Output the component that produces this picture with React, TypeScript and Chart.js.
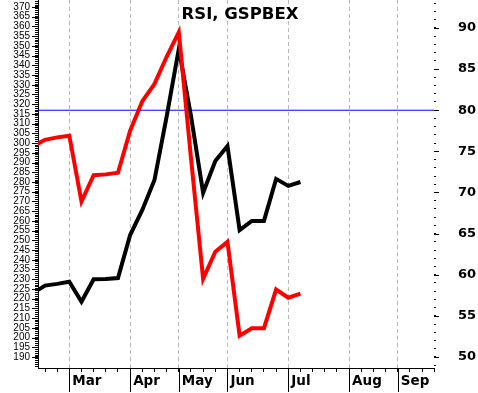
import React, { useEffect, useRef } from 'react';
import { Chart, registerables } from 'chart.js';

Chart.register(...registerables);

// ---- data ----
const title = 'RSI, GSPBEX';
// week index (0 = first tick on the time axis)
const weeks = [-1, 0, 1, 2, 3, 4, 5, 6, 7, 8, 9, 10, 11, 12, 13, 14, 15, 16, 17, 18, 19, 20, 21];
// GSPBEX price (left axis)
const gspbex = [222.8, 226.7, 227.6, 228.7, 218.4, 230.0, 230.1, 230.6, 252.7, 265.6, 281.0, 313.6, 348.4, 314.0, 274.5, 290.8, 298.5, 255.3, 260.0, 260.0, 281.6, 278.0, 280.0];
// RSI (right axis)
const rsi = [75.6, 76.4, 76.7, 76.9, 68.9, 72.1, 72.2, 72.4, 77.5, 81.1, 83.2, 86.5, 89.5, 74.2, 59.5, 62.8, 64.0, 52.6, 53.5, 53.5, 58.2, 57.2, 57.7];
const overbought = 80;
// time axis: weekly ticks, months start at these weeks
const xTickWeeks = Array.from({ length: 33 }, (_, i) => i);
const monthWeeks = [2, 7, 11, 15, 20, 25, 29];
const monthLabels = ['Mar', 'Apr', 'May', 'Jun', 'Jul', 'Aug', 'Sep'];
// left axis labels 190..370 step 5, minor ticks every 1
const leftLabelValues: number[] = [];
for (let v = 190; v <= 370; v += 5) leftLabelValues.push(v);
const leftMinorTicks: number[] = [];
for (let v = 185; v <= 373; v += 1) leftMinorTicks.push(v);
// right axis labels 50..90 step 5, minor ticks every 1
const rightLabelValues = [50, 55, 60, 65, 70, 75, 80, 85, 90];
const rightMinorTicks: number[] = [];
for (let v = 49; v <= 93; v += 1) rightMinorTicks.push(v);

// ---- layout ----
const X_MIN = -0.5755;
const X_MAX = 31.98;
const YL_MIN = 184.34;
const YL_MAX = 373.6;
const YR_MIN = 48.66;
const YR_MAX = 93.4;

const extras = {
  id: 'extras',
  afterDraw(chart: any) {
    const { ctx, chartArea, scales } = chart;
    const x = scales.x;
    const yL = scales.yL;
    const yR = scales.yR;
    ctx.save();
    ctx.strokeStyle = '#000';
    ctx.lineWidth = 1;
    ctx.setLineDash([]);
    ctx.beginPath();
    monthWeeks.forEach((m) => {
      const px = Math.round(x.getPixelForValue(m)) + 0.5;
      ctx.moveTo(px, chartArea.bottom);
      ctx.lineTo(px, chartArea.bottom + 24);
    });
    leftLabelValues.forEach((v) => {
      const py = Math.round(yL.getPixelForValue(v)) + 0.5;
      ctx.moveTo(chartArea.left - 6, py);
      ctx.lineTo(chartArea.left, py);
    });
    rightLabelValues.forEach((v) => {
      const py = Math.round(yR.getPixelForValue(v)) + 0.5;
      ctx.moveTo(chartArea.right, py);
      ctx.lineTo(chartArea.right + 5, py);
    });
    ctx.stroke();
    ctx.fillStyle = '#000';
    ctx.font = 'bold 16.5px "DejaVu Sans"';
    ctx.textAlign = 'center';
    ctx.textBaseline = 'alphabetic';
    ctx.fillText(title, 240, 19);
    ctx.restore();
  },
};

export default function App() {
  const ref = useRef<HTMLCanvasElement | null>(null);
  useEffect(() => {
    const canvas = ref.current;
    if (!canvas) return;
    const chart = new Chart(canvas, {
      type: 'line',
      data: {
        datasets: [
          {
            label: 'RSI',
            data: weeks.map((w, i) => ({ x: w, y: rsi[i] })),
            yAxisID: 'yR',
            borderColor: '#ff0000',
            borderWidth: 4,
            pointRadius: 0,
            tension: 0,
            clip: 0,
          },
          {
            label: 'GSPBEX',
            data: weeks.map((w, i) => ({ x: w, y: gspbex[i] })),
            yAxisID: 'yL',
            borderColor: '#000000',
            borderWidth: 4,
            pointRadius: 0,
            tension: 0,
            clip: 0,
          },
          {
            label: 'Overbought',
            data: [
              { x: X_MIN, y: overbought },
              { x: X_MAX, y: overbought },
            ],
            yAxisID: 'yR',
            borderColor: '#0000ff',
            borderWidth: 1,
            pointRadius: 0,
            clip: 0,
          },
        ],
      },
      options: {
        animation: false,
        responsive: false,
        events: [],
        layout: { padding: 0, autoPadding: false },
        plugins: {
          legend: { display: false },
          title: { display: false },
          tooltip: { enabled: false },
        },
        scales: {
          x: {
            type: 'linear',
            position: 'bottom',
            min: X_MIN,
            max: X_MAX,
            afterBuildTicks: (s: any) => {
              s.ticks = xTickWeeks.map((v) => ({ value: v }));
            },
            afterFit: (s: any) => {
              s.height = 25;
              s.paddingLeft = 0;
              s.paddingRight = 0;
            },
            ticks: {
              autoSkip: false,
              maxRotation: 0,
              minRotation: 0,
              align: 'start',
              labelOffset: 3,
              padding: 1,
              color: '#000',
              font: { family: 'DejaVu Sans', weight: 'bold', size: 13.5 },
              callback: (v: any) => {
                const i = monthWeeks.indexOf(Number(v));
                return i >= 0 ? monthLabels[i] : '';
              },
            },
            grid: {
              color: (c: any) =>
                c.tick && monthWeeks.includes(c.tick.value) ? '#b8b8b8' : 'rgba(0,0,0,0)',
              tickColor: '#000',
              tickLength: 4,
              lineWidth: 1,
              drawOnChartArea: true,
            },
            border: { display: true, color: '#000', width: 1, dash: [4, 3] },
          },
          yL: {
            type: 'linear',
            position: 'left',
            min: YL_MIN,
            max: YL_MAX,
            afterBuildTicks: (s: any) => {
              s.ticks = leftMinorTicks.map((v) => ({ value: v }));
            },
            afterFit: (s: any) => {
              s.width = 38;
              s.paddingTop = 0;
              s.paddingBottom = 0;
            },
            ticks: {
              autoSkip: false,
              padding: 5,
              color: '#000',
              font: { family: 'Liberation Sans', size: 10 },
              callback: (v: any) => (leftLabelValues.includes(Number(v)) ? String(v) : ''),
            },
            grid: { drawOnChartArea: false, tickLength: 3, tickColor: '#000', color: '#000' },
            border: { display: true, color: '#000', width: 1 },
          },
          yR: {
            type: 'linear',
            position: 'right',
            min: YR_MIN,
            max: YR_MAX,
            afterBuildTicks: (s: any) => {
              s.ticks = rightMinorTicks.map((v) => ({ value: v }));
            },
            afterFit: (s: any) => {
              s.width = 44;
              s.paddingTop = 0;
              s.paddingBottom = 0;
            },
            ticks: {
              autoSkip: false,
              padding: 22,
              color: '#000',
              font: { family: 'DejaVu Sans', weight: 'bold', size: 13 },
              callback: (v: any) => (rightLabelValues.includes(Number(v)) ? String(v) : ''),
            },
            grid: { drawOnChartArea: false, tickLength: 2, tickColor: '#000', color: '#000' },
            border: { display: false },
          },
        },
      },
      plugins: [extras],
    } as any);
    return () => chart.destroy();
  }, []);
  return (
    <div style={{ position: 'absolute', left: 0, top: 0, width: 478, height: 393, background: '#fff' }}>
      <canvas ref={ref} width={478} height={393} style={{ display: 'block' }} />
    </div>
  );
}
